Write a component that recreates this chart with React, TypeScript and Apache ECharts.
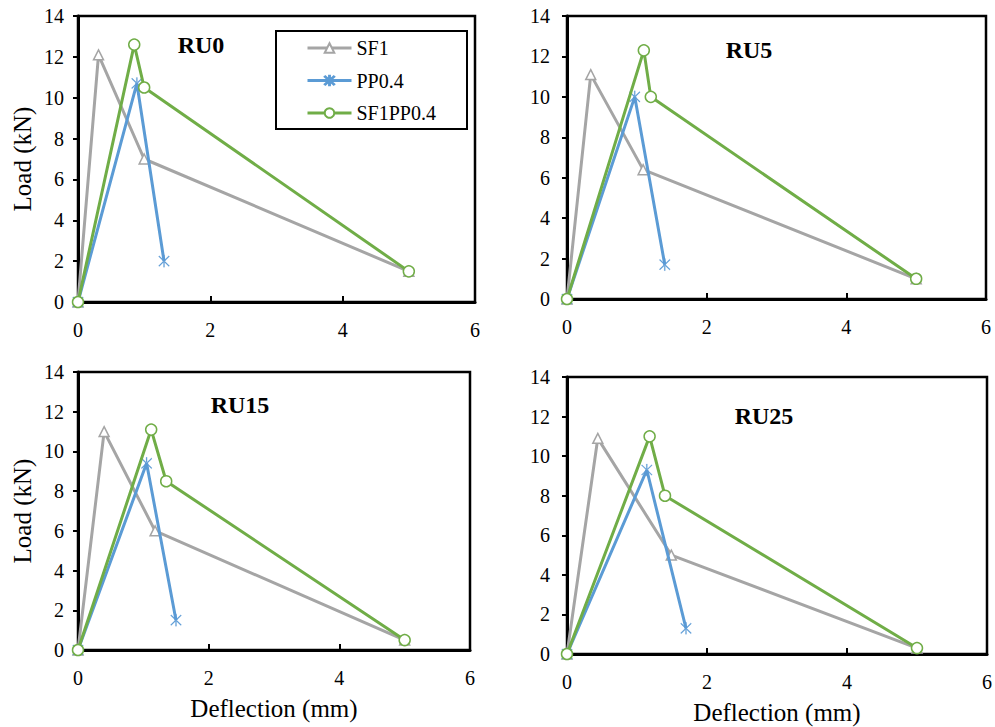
import React, { useEffect, useRef } from "react";
import * as echarts from "echarts";

// Series names and colours
const seriesNames = ["SF1", "PP0.4", "SF1PP0.4"];
const seriesColors = ["#A5A5A5", "#5B9BD5", "#70AD47"];

// Load–deflection points: [deflection (mm), load (kN)]
const ru0SF1 = [[0, 0], [0.31, 12.1], [1.0, 7.0], [5.0, 1.5]];
const ru0PP = [[0, 0], [0.89, 10.7], [1.3, 2.0]];
const ru0SFPP = [[0, 0], [0.85, 12.6], [1.0, 10.5], [5.0, 1.5]];

const ru5SF1 = [[0, 0], [0.34, 11.1], [1.09, 6.4], [5.0, 1.0]];
const ru5PP = [[0, 0], [0.97, 10.0], [1.4, 1.7]];
const ru5SFPP = [[0, 0], [1.1, 12.3], [1.2, 10.0], [5.0, 1.0]];

const ru15SF1 = [[0, 0], [0.4, 11.0], [1.18, 6.0], [5.0, 0.5]];
const ru15PP = [[0, 0], [1.05, 9.4], [1.5, 1.5]];
const ru15SFPP = [[0, 0], [1.12, 11.1], [1.35, 8.5], [5.0, 0.5]];

const ru25SF1 = [[0, 0], [0.44, 10.9], [1.49, 5.0], [5.0, 0.3]];
const ru25PP = [[0, 0], [1.14, 9.3], [1.7, 1.3]];
const ru25SFPP = [[0, 0], [1.18, 11.0], [1.4, 8.0], [5.0, 0.3]];

const panelTitles = ["RU0", "RU5", "RU15", "RU25"];
const panelData = [
  [ru0SF1, ru0PP, ru0SFPP],
  [ru5SF1, ru5PP, ru5SFPP],
  [ru15SF1, ru15PP, ru15SFPP],
  [ru25SF1, ru25PP, ru25SFPP],
];

// Axis ranges and tick steps
const xMax = 6;
const xStep = 2;
const yMax = 14;
const yStep = 2;
const xTitle = "Deflection (mm)";
const yTitle = "Load (kN)";

const FONT = "Liberation Serif, serif";

// Six-armed asterisk marker
const asterisk =
  "path://M-0.5,-6L0.5,-6L0.5,6L-0.5,6Z" +
  "M-5.35,-4.65L4.65,5.35L5.35,4.65L-4.65,-5.35Z" +
  "M-4.65,5.35L5.35,-4.65L4.65,-5.35L-5.35,4.65Z";
const symbols = ["triangle", asterisk, "circle"];

const grids = [
  { left: 78, top: 16, width: 397, height: 286, yLabelMargin: 14 },
  { left: 567, top: 16, width: 419, height: 283, yLabelMargin: 17 },
  { left: 78, top: 372, width: 392, height: 278, yLabelMargin: 14 },
  { left: 567, top: 377, width: 420, height: 277, yLabelMargin: 17 },
];

const titlePos = [
  [201, 45],
  [749, 50],
  [240, 405],
  [764, 416],
];

export default function App() {
  const ref = useRef<HTMLDivElement>(null);

  useEffect(() => {
    if (!ref.current) return;
    const chart = echarts.init(ref.current, undefined, { renderer: "svg" });

    const series: any[] = [];
    panelData.forEach((panel, p) => {
      panel.forEach((pts, s) => {
        const c = seriesColors[s];
        const isStar = s === 1;
        series.push({
          name: seriesNames[s],
          type: "line",
          xAxisIndex: p,
          yAxisIndex: p,
          data: pts,
          symbol: symbols[s],
          symbolSize: isStar ? [11, 12] : s === 0 ? [10, 10] : 11,
          showAllSymbol: true,
          lineStyle: { color: c, width: 3 },
          itemStyle: isStar
            ? { color: c, borderColor: c, borderWidth: 0.2 }
            : { color: "#ffffff", borderColor: c, borderWidth: 1.5 },
          emphasis: { disabled: true },
          z: 2 + s,
        });
      });
    });

    const option: any = {
      animation: false,
      backgroundColor: "#ffffff",
      textStyle: { fontFamily: FONT },
      grid: grids.map((g) => ({
        left: g.left,
        top: g.top,
        width: g.width,
        height: g.height,
        show: true,
        borderColor: "#000",
        borderWidth: 2.5,
        backgroundColor: "transparent",
      })),
      xAxis: grids.map((g, i) => ({
        type: "value",
        gridIndex: i,
        min: 0,
        max: xMax,
        interval: xStep,
        splitLine: { show: false },
        axisLine: { show: true, onZero: false, lineStyle: { color: "#000", width: 3 } },
        axisTick: { show: true, inside: true, length: 6, lineStyle: { color: "#000", width: 2 } },
        axisLabel: { color: "#000", fontSize: 20, fontFamily: FONT, margin: 18 },
        name: i >= 2 ? xTitle : "",
        nameLocation: "middle",
        nameGap: 46,
        nameTextStyle: { color: "#000", fontSize: 25, fontFamily: FONT },
      })),
      yAxis: grids.map((g, i) => ({
        type: "value",
        gridIndex: i,
        min: 0,
        max: yMax,
        interval: yStep,
        splitLine: { show: false },
        axisLine: { show: true, onZero: false, lineStyle: { color: "#000", width: 3 } },
        axisTick: { show: true, inside: false, length: 5, lineStyle: { color: "#000", width: 2 } },
        axisLabel: { color: "#000", fontSize: 20, fontFamily: FONT, margin: g.yLabelMargin },
        name: i % 2 === 0 ? yTitle : "",
        nameLocation: "middle",
        nameGap: 43,
        nameTextStyle: { color: "#000", fontSize: 25, fontFamily: FONT },
      })),
      legend: {
        show: true,
        orient: "vertical",
        left: 306,
        top: 38,
        padding: 0,
        itemWidth: 44,
        itemHeight: 12,
        itemGap: 12.5,
        data: seriesNames,
        lineStyle: { width: 3 },
        textStyle: { color: "#000", fontSize: 20, fontFamily: FONT, lineHeight: 20 },
        selectedMode: false,
      },
      graphic: [
        {
          type: "rect",
          shape: { x: 276, y: 31, width: 191, height: 98 },
          style: { fill: "none", stroke: "#000", lineWidth: 2 },
          z: 1,
        },
        ...panelTitles.map((t, i) => ({
          type: "text",
          x: titlePos[i][0],
          y: titlePos[i][1],
          style: {
            text: t,
            fill: "#000",
            font: `bold 24px ${FONT}`,
            align: "center",
            verticalAlign: "middle",
          },
          z: 10,
        })),
      ],
      series,
    };

    chart.setOption(option);
    return () => chart.dispose();
  }, []);

  return (
    <div
      ref={ref}
      style={{ position: "fixed", left: 0, top: 0, width: 995, height: 727, background: "#fff" }}
    />
  );
}
